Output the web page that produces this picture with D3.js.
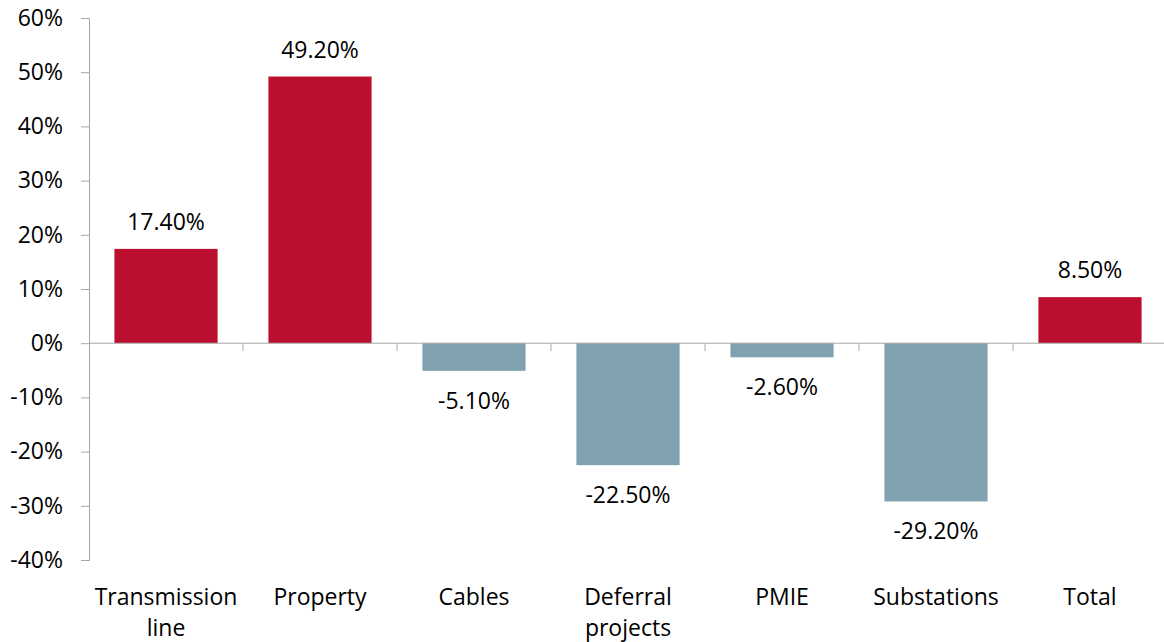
<!DOCTYPE html>
<html>
<head>
<meta charset="utf-8">
<script src="https://cdn.jsdelivr.net/npm/d3@7"></script>
<style>
  body { margin: 0; background: #fff; }
  text { font-family: "Open Sans", sans-serif; fill: #000; }
</style>
</head>
<body>
<svg id="chart"></svg>
<script>
const categories = ["Transmission line", "Property", "Cables", "Deferral projects", "PMIE", "Substations", "Total"];
const values = [17.4, 49.2, -5.1, -22.5, -2.6, -29.2, 8.5];
const yTicks = [60, 50, 40, 30, 20, 10, 0, -10, -20, -30, -40];

function renderBarChart() {
    const width = 1164, height = 642;
    const margin = { top: 18, right: -3, bottom: 82, left: 89 };

    const svg = d3.select("#chart")
        .attr("width", width)
        .attr("height", height);

    const x = d3.scaleBand()
        .domain(categories)
        .range([margin.left, width - margin.right])
        .paddingInner(0.33)
        .paddingOuter(0.165);

    const y = d3.scaleLinear()
        .domain([-40, 60])
        .range([height - margin.bottom, margin.top]);

    const axisColor = "#a6a6a6";
    const fontSize = "23px";

    // bars
    svg.selectAll("rect.bar")
        .data(values)
        .enter()
        .append("rect")
        .attr("class", "bar")
        .attr("x", (d, i) => x(categories[i]))
        .attr("y", d => y(Math.max(0, d)))
        .attr("width", x.bandwidth())
        .attr("height", d => Math.abs(y(d) - y(0)))
        .style("fill", d => d >= 0 ? "#ba0f2f" : "#7fa1b0");

    // y axis
    const yAxis = svg.append("g")
        .attr("transform", `translate(${margin.left},0)`)
        .call(d3.axisLeft(y).tickValues(yTicks).tickSize(8).tickPadding(18).tickFormat(d => d + "%"));
    yAxis.select(".domain").attr("stroke", axisColor);
    yAxis.selectAll(".tick line").attr("stroke", axisColor);
    yAxis.selectAll(".tick text").style("font-size", fontSize).style("font-family", "Open Sans").attr("fill", "#000");

    // zero line with category ticks
    const step = x.step();
    const x0 = margin.left;
    const x1 = width - margin.right;
    svg.append("line")
        .attr("x1", x0).attr("x2", x1)
        .attr("y1", y(0)).attr("y2", y(0))
        .attr("stroke", axisColor);
    svg.selectAll("line.ctick")
        .data(d3.range(1, categories.length + 1))
        .enter()
        .append("line")
        .attr("class", "ctick")
        .attr("x1", i => x0 + i * step)
        .attr("x2", i => x0 + i * step)
        .attr("y1", y(0))
        .attr("y2", y(0) + 8)
        .attr("stroke", axisColor);

    // value labels
    svg.selectAll("text.val")
        .data(values)
        .enter()
        .append("text")
        .attr("class", "val")
        .attr("text-anchor", "middle")
        .attr("x", (d, i) => x(categories[i]) + x.bandwidth() / 2)
        .attr("y", d => d >= 0 ? y(d) - 19 : y(d) + 38)
        .style("font-size", fontSize)
        .text(d => d.toFixed(2) + "%");

    // category labels (wrapped onto two lines where needed)
    svg.selectAll("text.cat")
        .data(categories)
        .enter()
        .append("text")
        .attr("class", "cat")
        .attr("text-anchor", "middle")
        .attr("x", d => x(d) + x.bandwidth() / 2)
        .attr("y", 605)
        .style("font-size", fontSize)
        .each(function(d) {
            const words = d.split(" ");
            const t = d3.select(this);
            words.forEach((w, k) => {
                t.append("tspan")
                    .attr("x", x(d) + x.bandwidth() / 2)
                    .attr("dy", k === 0 ? 0 : 31)
                    .text(w);
            });
        });
}

renderBarChart();
</script>
</body>
</html>
